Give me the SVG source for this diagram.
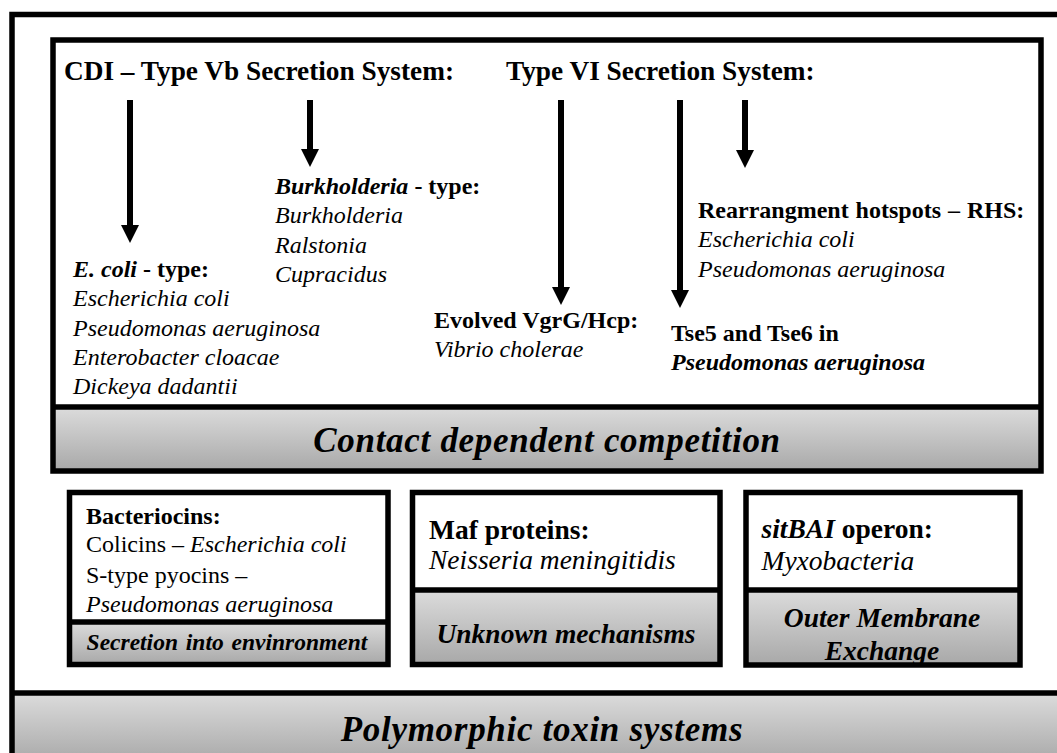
<svg xmlns="http://www.w3.org/2000/svg" width="1057" height="753" viewBox="0 0 1057 753">
<defs>
<linearGradient id="g" x1="0" y1="0" x2="0" y2="1">
<stop offset="0" stop-color="#dcdcdc"/>
<stop offset="1" stop-color="#a8a8a8"/>
</linearGradient>
<marker id="ah" viewBox="0 0 10 10" refX="5" refY="5" markerWidth="3" markerHeight="3" orient="auto" markerUnits="strokeWidth">
<path d="M0,0 L10,5 L0,10 z" fill="#000"/>
</marker>
<style>
.box{fill:none;stroke:#000;stroke-width:5.5}
.band{fill:url(#g)}
.t{fill:#000;font-family:"Liberation Serif","Times New Roman",serif}
.b{font-weight:bold}
.i{font-style:italic}
.h{font-size:27.3px;font-weight:bold}
.s{font-size:24px}
.m{font-size:27.5px}
.big{font-size:35px;font-weight:bold;font-style:italic;letter-spacing:0.7px}
.arr{stroke:#000;stroke-width:6;fill:none}
</style>
</defs>
<rect width="1057" height="753" fill="#fff"/>
<g id="outer">
<rect class="band" x="12" y="693" width="1060" height="70"/>
<rect class="box" x="12" y="14.5" width="1070" height="760"/>
<line x1="12" y1="693" x2="1070" y2="693" stroke="#000" stroke-width="5.5"/>
<text class="t big" x="542" y="741" text-anchor="middle">Polymorphic toxin systems</text>
</g>
<g id="contact">
<rect class="band" x="53" y="407" width="988" height="64"/>
<rect class="box" x="53" y="40" width="988" height="431"/>
<line x1="53" y1="407" x2="1041" y2="407" stroke="#000" stroke-width="5.5"/>
<text class="t big" x="547" y="452" text-anchor="middle">Contact dependent competition</text>
</g>
<g id="cdi-header"><text class="t h" x="64" y="79.5">CDI – Type Vb Secretion System:</text></g>
<g id="t6ss-header"><text class="t h" x="506" y="79.5">Type VI Secretion System:</text></g>
<g id="ecoli-type">
<text class="t s" x="73" y="277"><tspan class="b i">E. coli</tspan><tspan class="b"> - type:</tspan></text>
<text class="t s i" x="73" y="306">Escherichia coli</text>
<text class="t s i" x="73" y="336">Pseudomonas aeruginosa</text>
<text class="t s i" x="73" y="365">Enterobacter cloacae</text>
<text class="t s i" x="73" y="394">Dickeya dadantii</text>
</g>
<g id="burk-type">
<text class="t s" x="275" y="194"><tspan class="b i">Burkholderia</tspan><tspan class="b"> - type:</tspan></text>
<text class="t s i" x="275" y="223">Burkholderia</text>
<text class="t s i" x="275" y="253">Ralstonia</text>
<text class="t s i" x="275" y="282">Cupracidus</text>
</g>
<g id="vgrg">
<text class="t s b" x="434" y="328">Evolved VgrG/Hcp:</text>
<text class="t s i" x="434" y="357">Vibrio cholerae</text>
</g>
<g id="tse">
<text class="t s b" x="671" y="341">Tse5 and Tse6 in</text>
<text class="t s b i" x="671" y="370">Pseudomonas aeruginosa</text>
</g>
<g id="rhs">
<text class="t s b" x="698" y="217.5" word-spacing="1">Rearrangment hotspots – RHS:</text>
<text class="t s i" x="698" y="247">Escherichia coli</text>
<text class="t s i" x="698" y="277">Pseudomonas aeruginosa</text>
</g>
<g id="connectors">
<line class="arr" x1="130" y1="100" x2="130" y2="234" marker-end="url(#ah)"/>
<line class="arr" x1="310" y1="100" x2="310" y2="158" marker-end="url(#ah)"/>
<line class="arr" x1="561" y1="100" x2="561" y2="296" marker-end="url(#ah)"/>
<line class="arr" x1="680" y1="100" x2="680" y2="299" marker-end="url(#ah)"/>
<line class="arr" x1="745" y1="100" x2="745" y2="159" marker-end="url(#ah)"/>
</g>
<g id="bacteriocins">
<rect class="band" x="69.5" y="622" width="318.5" height="42.5"/>
<rect class="box" x="69.5" y="492.5" width="318.5" height="172"/>
<line x1="69.5" y1="622" x2="388" y2="622" stroke="#000" stroke-width="5.5"/>
<text class="t s b" x="86" y="524">Bacteriocins:</text>
<text class="t s" x="86" y="552">Colicins – <tspan class="i">Escherichia coli</tspan></text>
<text class="t s" x="86" y="583">S-type pyocins –</text>
<text class="t s i" x="86" y="611.5">Pseudomonas aeruginosa</text>
<text class="t b i" x="227" y="650" font-size="23.5" text-anchor="middle" word-spacing="2">Secretion into envinronment</text>
</g>
<g id="maf">
<rect class="band" x="412.5" y="590" width="307.5" height="74.5"/>
<rect class="box" x="412.5" y="492.5" width="307.5" height="172"/>
<line x1="412.5" y1="590" x2="720" y2="590" stroke="#000" stroke-width="5.5"/>
<text class="t m b" x="429" y="539">Maf proteins:</text>
<text class="t m i" x="429" y="569">Neisseria meningitidis</text>
<text class="t m b i" x="566" y="643" text-anchor="middle">Unknown mechanisms</text>
</g>
<g id="sitbai">
<rect class="band" x="746" y="590" width="274" height="75"/>
<rect class="box" x="746" y="492.5" width="274" height="172.5"/>
<line x1="746" y1="590" x2="1020" y2="590" stroke="#000" stroke-width="5.5"/>
<text class="t m" x="761.5" y="537.5"><tspan class="b i">sitBAI</tspan><tspan class="b"> operon:</tspan></text>
<text class="t m i" x="761.5" y="570">Myxobacteria</text>
<text class="t m b i" x="882" y="627" text-anchor="middle">Outer Membrane</text>
<text class="t m b i" x="882" y="660" text-anchor="middle">Exchange</text>
</g>
</svg>
